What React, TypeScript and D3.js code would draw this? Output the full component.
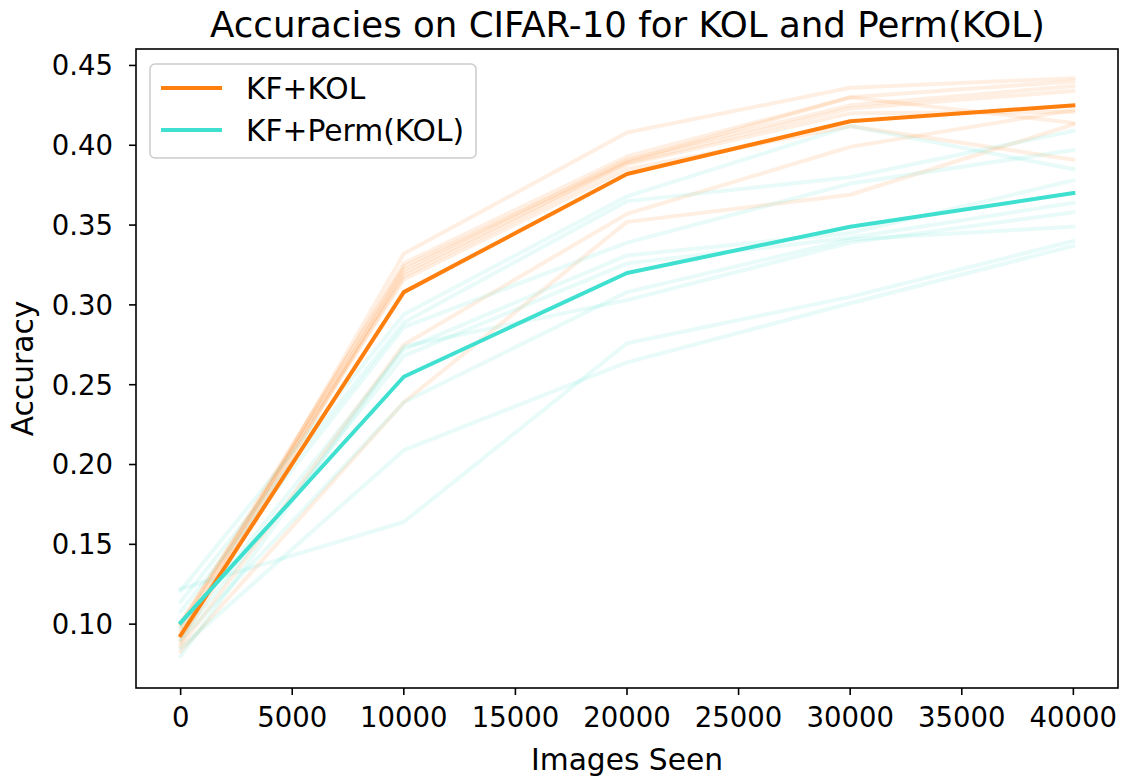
import React from "react";
import * as d3 from "d3";

// Training checkpoints (number of images seen)
const imagesSeen = [0, 10000, 20000, 30000, 40000];

// Individual runs of KF+KOL
const kolRuns: number[][] = [
  [0.090, 0.332, 0.408, 0.436, 0.442],
  [0.096, 0.326, 0.393, 0.430, 0.440],
  [0.088, 0.322, 0.391, 0.425, 0.437],
  [0.099, 0.320, 0.389, 0.423, 0.434],
  [0.094, 0.318, 0.388, 0.420, 0.421],
  [0.101, 0.316, 0.385, 0.412, 0.391],
  [0.086, 0.275, 0.357, 0.399, 0.422],
  [0.083, 0.239, 0.352, 0.369, 0.413],
  [0.100, 0.324, 0.390, 0.430, 0.414],
];

// Individual runs of KF+Perm(KOL)
const permRuns: number[][] = [
  [0.121, 0.294, 0.368, 0.412, 0.385],
  [0.114, 0.289, 0.365, 0.380, 0.409],
  [0.108, 0.286, 0.339, 0.376, 0.397],
  [0.098, 0.272, 0.331, 0.345, 0.378],
  [0.092, 0.268, 0.326, 0.342, 0.364],
  [0.090, 0.239, 0.308, 0.341, 0.349],
  [0.085, 0.209, 0.264, 0.301, 0.337],
  [0.122, 0.164, 0.276, 0.305, 0.340],
  [0.080, 0.274, 0.303, 0.339, 0.358],
];

// Mean curves
const kolMean = [0.093, 0.308, 0.382, 0.415, 0.425];
const permMean = [0.101, 0.255, 0.320, 0.349, 0.370];

const xTicks = [0, 5000, 10000, 15000, 20000, 25000, 30000, 35000, 40000];
const yTicks = [0.1, 0.15, 0.2, 0.25, 0.3, 0.35, 0.4, 0.45];

const ORANGE = "#ff7f0e";
const TEAL = "#40e0d0";
const FONT = "'DejaVu Sans', sans-serif";

const W = 1123;
const H = 776;
const plot = { left: 136, right: 1118, top: 49, bottom: 688 };

export default function App() {
  const x = d3.scaleLinear().domain([-2000, 42000]).range([plot.left, plot.right]);
  const y = d3.scaleLinear().domain([0.06, 0.4603]).range([plot.bottom, plot.top]);
  const line = d3
    .line<number>()
    .x((_, i) => x(imagesSeen[i]))
    .y((d) => y(d));

  return (
    <svg
      width={W}
      height={H}
      style={{ position: "absolute", left: 0, top: 0, background: "#fff" }}
      fontFamily={FONT}
    >
      <defs>
        <clipPath id="plotClip">
          <rect x={plot.left} y={plot.top} width={plot.right - plot.left} height={plot.bottom - plot.top} />
        </clipPath>
      </defs>

      <g clipPath="url(#plotClip)" fill="none" strokeLinejoin="round" strokeLinecap="square">
        {kolRuns.map((r, i) => (
          <path key={"k" + i} d={line(r) ?? ""} stroke={ORANGE} strokeOpacity={0.12} strokeWidth={4} />
        ))}
        {permRuns.map((r, i) => (
          <path key={"p" + i} d={line(r) ?? ""} stroke={TEAL} strokeOpacity={0.12} strokeWidth={4} />
        ))}
        <path d={line(kolMean) ?? ""} stroke={ORANGE} strokeWidth={4} />
        <path d={line(permMean) ?? ""} stroke={TEAL} strokeWidth={4} />
      </g>

      {/* axes frame */}
      <rect
        x={plot.left}
        y={plot.top}
        width={plot.right - plot.left}
        height={plot.bottom - plot.top}
        fill="none"
        stroke="#000"
        strokeWidth={1.6}
      />

      {/* x ticks */}
      {xTicks.map((t) => (
        <g key={"xt" + t}>
          <line x1={x(t)} x2={x(t)} y1={plot.bottom} y2={plot.bottom + 7} stroke="#000" strokeWidth={1.6} />
          <text x={x(t)} y={727} textAnchor="middle" fontSize={27.5} fill="#000">
            {t}
          </text>
        </g>
      ))}

      {/* y ticks */}
      {yTicks.map((t) => (
        <g key={"yt" + t}>
          <line x1={plot.left - 7} x2={plot.left} y1={y(t)} y2={y(t)} stroke="#000" strokeWidth={1.6} />
          <text x={plot.left - 23} y={y(t)} dy="0.36em" textAnchor="end" fontSize={27.5} fill="#000">
            {t.toFixed(2)}
          </text>
        </g>
      ))}

      <text x={(plot.left + plot.right) / 2} y={770} textAnchor="middle" fontSize={29.7} fill="#000">
        Images Seen
      </text>
      <text
        transform={`translate(33, ${(plot.top + plot.bottom) / 2}) rotate(-90)`}
        textAnchor="middle"
        fontSize={29.7}
        fill="#000"
      >
        Accuracy
      </text>
      <text x={(plot.left + plot.right) / 2 + 0.5} y={37} textAnchor="middle" fontSize={35.6} fill="#000">
        Accuracies on CIFAR-10 for KOL and Perm(KOL)
      </text>

      {/* legend */}
      <g>
        <rect x={150} y={64} width={326} height={94} rx={5} fill="#fff" fillOpacity={0.8} stroke="#cccccc" strokeWidth={1.5} />
        <line x1={161} x2={222} y1={88} y2={88} stroke={ORANGE} strokeWidth={4} />
        <text x={246} y={88} dy="0.36em" fontSize={29.7} fill="#000">
          KF+KOL
        </text>
        <line x1={161} x2={222} y1={130} y2={130} stroke={TEAL} strokeWidth={4} />
        <text x={246} y={130} dy="0.36em" fontSize={29.7} fill="#000">
          KF+Perm(KOL)
        </text>
      </g>
    </svg>
  );
}
